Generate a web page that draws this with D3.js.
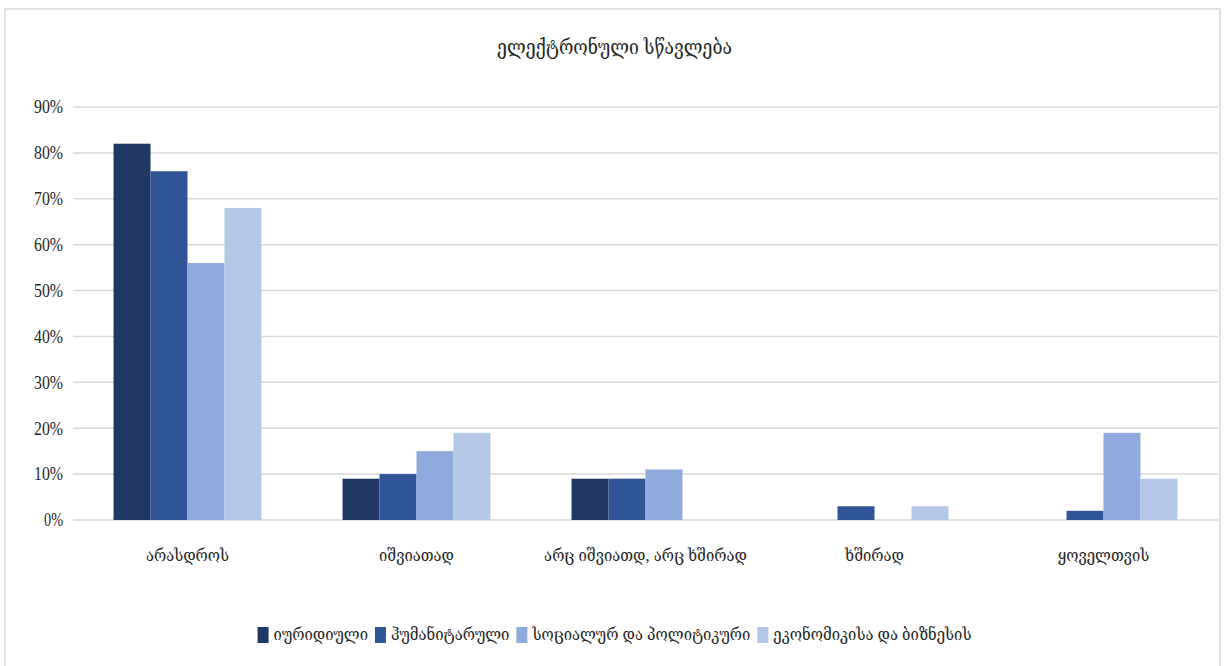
<!DOCTYPE html>
<html>
<head>
<meta charset="utf-8">
<script src="https://cdn.jsdelivr.net/npm/d3@7"></script>
<style>
  body { margin: 0; background: #fff; }
  text { font-family: "Liberation Serif", "DejaVu Serif Condensed", "DejaVu Sans Condensed", serif; fill: #262626; }
</style>
</head>
<body>
<svg id="chart" width="1229" height="666"></svg>
<script>
var title = "ელექტრონული სწავლება";
var categories = ["არასდროს", "იშვიათად", "არც იშვიათდ, არც ხშირად", "ხშირად", "ყოველთვის"];
var seriesNames = ["იურიდიული", "ჰუმანიტარული", "სოციალურ და პოლიტიკური", "ეკონომიკისა და ბიზნესის"];
var law = [82, 9, 9, 0, 0];
var humanities = [76, 10, 9, 3, 2];
var social = [56, 15, 11, 0, 19];
var economics = [68, 19, 0, 3, 9];
var yTicks = [0, 10, 20, 30, 40, 50, 60, 70, 80, 90];

var COLORS = ["#203864", "#2F5597", "#8FAADC", "#B4C7E7"];
var series = [law, humanities, social, economics];

var margins = { top: 107, right: 11, bottom: 146, left: 73 };
var width = 1229, height = 666;
var chartWidth = width - margins.left - margins.right;
var chartHeight = height - margins.top - margins.bottom;

var svg = d3.select("#chart");

// outer frame
svg.append("rect")
  .attr("x", 5).attr("y", 9)
  .attr("width", 1215).attr("height", 670)
  .style("fill", "none")
  .style("stroke", "#d9d9d9")
  .style("stroke-width", 1.5);

svg.append("text")
  .attr("x", width / 2)
  .attr("y", 54)
  .style("text-anchor", "middle")
  .style("font-size", "19.5px")
  .text(title);

var g = svg.append("g")
  .attr("transform", "translate(" + margins.left + "," + margins.top + ")");

var yScale = d3.scaleLinear().domain([0, 90]).range([chartHeight, 0]);
var x0 = d3.scaleBand().domain(categories).range([0, chartWidth]).paddingInner(0.354).paddingOuter(0.177);
var x1 = d3.scaleBand().domain(d3.range(series.length)).range([0, x0.bandwidth()]);

// gridlines
g.selectAll(".grid")
  .data(yTicks)
  .join("line")
  .attr("class", "grid")
  .attr("x1", 0).attr("x2", chartWidth)
  .attr("y1", d => yScale(d)).attr("y2", d => yScale(d))
  .style("stroke", "#d9d9d9")
  .style("stroke-width", 1.5);

g.selectAll(".ytick")
  .data(yTicks)
  .join("text")
  .attr("class", "ytick")
  .attr("x", -10)
  .attr("y", d => yScale(d))
  .attr("dy", "0.35em")
  .style("text-anchor", "end")
  .style("font-size", "18px")
  .attr("textLength", d => d === 0 ? 19 : 29)
  .attr("lengthAdjust", "spacingAndGlyphs")
  .text(d => d + "%");

var groups = g.selectAll(".group")
  .data(categories)
  .join("g")
  .attr("class", "group")
  .attr("transform", d => "translate(" + x0(d) + ",0)");

groups.selectAll("rect")
  .data((d, i) => series.map((s, j) => ({ j: j, v: s[i] })))
  .join("rect")
  .attr("x", d => x1(d.j))
  .attr("width", x1.bandwidth())
  .attr("y", d => yScale(d.v))
  .attr("height", d => chartHeight - yScale(d.v))
  .style("fill", d => COLORS[d.j]);

g.selectAll(".xlabel")
  .data(categories)
  .join("text")
  .attr("class", "xlabel")
  .attr("x", d => x0(d) + x0.bandwidth() / 2)
  .attr("y", chartHeight + 41)
  .style("text-anchor", "middle")
  .style("font-size", "16.5px")
  .text(d => d);

// legend
var legend = svg.append("g");
var items = legend.selectAll(".item")
  .data(seriesNames)
  .join("g")
  .attr("class", "item");
items.append("rect")
  .attr("width", 11).attr("height", 16)
  .attr("y", -13)
  .style("fill", (d, i) => COLORS[i]);
items.append("text")
  .attr("x", 16)
  .style("font-size", "16.5px")
  .text(d => d);
var offset = 0;
items.each(function() {
  var w = this.getBBox().width;
  d3.select(this).attr("transform", "translate(" + offset + ",0)");
  offset += w + 7;
});
legend.attr("transform", "translate(" + (width / 2 - (offset - 7) / 2) + ",640)");
</script>
</body>
</html>
